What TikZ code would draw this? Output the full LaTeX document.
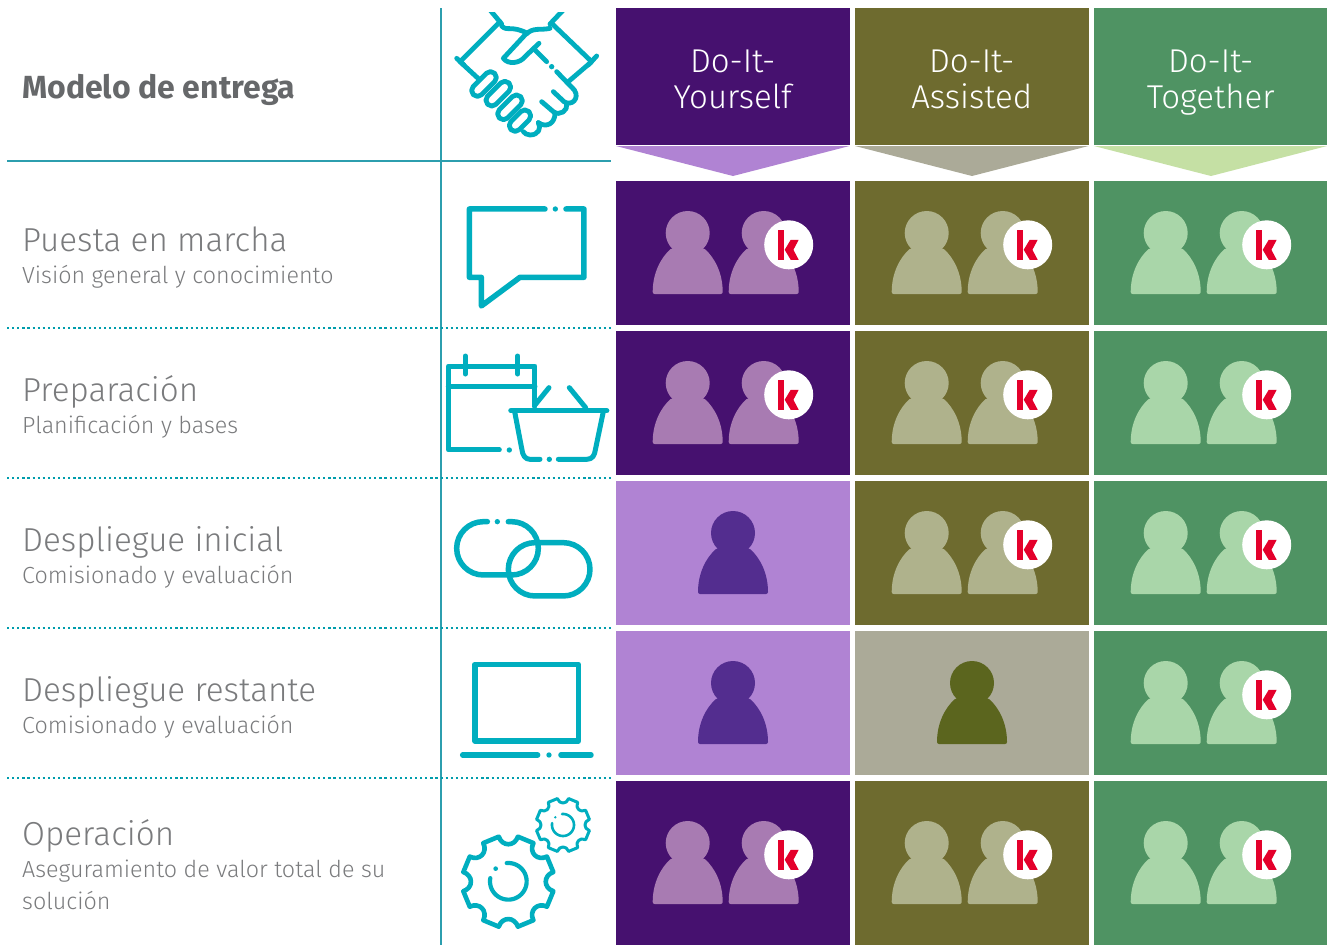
\documentclass[tikz,border=0pt]{standalone}
\usepackage{fontspec}
\setmainfont{Fira Sans Light}[BoldFont={Fira Sans Bold}]
\definecolor{teal}{HTML}{00AEBF}
\definecolor{rulecol}{HTML}{2C9EAE}
\definecolor{pdark}{HTML}{46116F}
\definecolor{odark}{HTML}{6E6B2F}
\definecolor{gdark}{HTML}{4F9363}
\definecolor{plight}{HTML}{B083D3}
\definecolor{olight}{HTML}{ABAA98}
\definecolor{glight}{HTML}{C5E0A4}
\definecolor{pperson}{HTML}{A87BB2}
\definecolor{operson}{HTML}{AFB28C}
\definecolor{gperson}{HTML}{A9D6A9}
\definecolor{psingle}{HTML}{532D8F}
\definecolor{osingle}{HTML}{5B651E}
\definecolor{kred}{HTML}{E4002B}
\definecolor{titlegrey}{HTML}{7A7B7D}
\definecolor{boldgrey}{HTML}{66686A}
\newcommand{\person}[3]{% centre x, row top, colour
  \fill[#3] (#1,#2+52) circle[radius=22];
  \fill[#3,rounded corners=2] (#1-35,#2+113) .. controls (#1-35,#2+92) and (#1-27,#2+77) .. (#1-16,#2+67) -- (#1+16,#2+67) .. controls (#1+27,#2+77) and (#1+35,#2+92) .. (#1+35,#2+113) -- cycle;
}
\newcommand{\kbadge}[2]{% centre x, centre y
  \fill[white] (#1,#2) circle[radius=24.5];
  \fill[kred] (#1-11,#2-14.5) rectangle (#1-4.7,#2+14.7);
  \fill[kred] (#1+2,#2-5) -- (#1+10,#2-5) -- (#1+4.7,#2+5) -- (#1+10,#2+15) -- (#1+2,#2+15) -- (#1-4,#2+5) -- cycle;
}
\newcommand{\pair}[3]{% column left, row top, colour
  \person{#1+71.7}{#2}{#3}
  \person{#1+147.7}{#2}{#3}
  \kbadge{#1+172.7}{#2+63.8}
}
\newcommand{\gearicon}[4]{% cx, cy, R, line width
  \begin{scope}[shift={(#1,#2)}]
  \draw[icon,line width=#4] (12:#3) \foreach \a in {45,90,...,360}{ -- ({\a-12}:#3) .. controls ({\a-10}:#3*0.77) and ({\a+10}:#3*0.77) .. ({\a+12}:#3) } -- cycle;
  \end{scope}
}
\tikzset{
  icon/.style={draw=teal,line width=5.5pt,line cap=round,line join=round},
  hand/.style={draw=teal,line width=4.8pt,line cap=round,line join=round},
  maintitle/.style={anchor=base west,inner sep=0pt,font=\fontsize{33.2}{33.2}\selectfont,text=titlegrey},
  subtitle/.style={anchor=base west,inner sep=0pt,font=\fontsize{23.3}{23.3}\selectfont,text=titlegrey},
  headtext/.style={anchor=base,inner sep=0pt,font=\fontsize{33}{33}\selectfont,text=white},
  dotrule/.style={draw=teal!90!black,line width=2.2pt,dash pattern=on 2.2pt off 2.9pt},
  solidrule/.style={draw=rulecol,line width=1.1pt},
}
\begin{document}
\begin{tikzpicture}[x=1pt,y=-1pt]
\useasboundingbox (0,0) rectangle (1327,945);
\fill[white] (0,0) rectangle (1327,945);
% header
\fill[pdark] (616,7.5) rectangle (849.5,145);
\fill[odark] (855,7.5) rectangle (1088.5,145);
\fill[gdark] (1094,7.5) rectangle (1327,145);
\fill[plight] (616,146) -- (849.5,146) -- (733,176) -- cycle;
\fill[olight] (855,146) -- (1088.5,146) -- (972,176) -- cycle;
\fill[glight] (1094,146) -- (1327,146) -- (1211,176) -- cycle;
\node[headtext] (h1a) at (732.7,72.5) {Do-It-};
\node[headtext] (h1b) at (732.7,108.5) {Yourself};
\node[headtext] (h2a) at (971.7,72.5) {Do-It-};
\node[headtext] (h2b) at (971.7,108.5) {Assisted};
\node[headtext] (h3a) at (1210.7,72.5) {Do-It-};
\node[headtext] (h3b) at (1210.7,108.5) {Together};
% row backgrounds
\foreach \t/\b/\c in {180.5/325/pdark,331/475/pdark,481/625/plight,631/775/plight,781/945/pdark}
  \fill[\c] (616,\t) rectangle (849.5,\b);
\foreach \t/\b/\c in {180.5/325/odark,331/475/odark,481/625/odark,631/775/olight,781/945/odark}
  \fill[\c] (855,\t) rectangle (1088.5,\b);
\foreach \t/\b in {180.5/325,331/475,481/625,631/775,781/945}
  \fill[gdark] (1094,\t) rectangle (1327,\b);
% people
\foreach \t in {181,331,791}{\pair{616}{\t}{pperson}}
\foreach \t in {181,331,481,791}{\pair{855}{\t}{operson}}
\foreach \t in {181,331,481,631,791}{\pair{1094}{\t}{gperson}}
\person{733}{481}{psingle}
\person{733}{631}{psingle}
\person{972}{631}{osingle}
% rules
\draw[solidrule] (441,8) -- (441,945);
\draw[solidrule] (7,161) -- (611,161);
\foreach \y in {328,478,628,778}
  \draw[dotrule] (7,\y) -- (611,\y);
% left labels
\node[anchor=base west,inner sep=0pt,font=\fontsize{32}{32}\selectfont\bfseries,text=boldgrey] (model) at (22,98) {Modelo de entrega};
\node[maintitle] (t1) at (22,251) {Puesta en marcha};
\node[subtitle] (s1) at (22,283) {Visión general y conocimiento};
\node[maintitle] (t2) at (22,401) {Preparación};
\node[subtitle] (s2) at (22,433) {Planificación y bases};
\node[maintitle] (t3) at (22,551) {Despliegue inicial};
\node[subtitle] (s3) at (22,583) {Comisionado y evaluación};
\node[maintitle] (t4) at (22,701) {Despliegue restante};
\node[subtitle] (s4) at (22,733) {Comisionado y evaluación};
\node[maintitle] (t5) at (22,845) {Operación};
\node[subtitle] (s5) at (22,877) {Aseguramiento de valor total de su};
\node[subtitle] (s5b) at (22,909) {solución};
% handshake icon
\begin{scope}[shift={(440,0)},x=0.3333pt,y=-0.3333pt]
\begin{scope}
\clip (40,38) rectangle (480,420);
\draw[hand] (150,30) -- (185,72);
\draw[hand] (180,65) -- (60,185) -- (125,245);
\draw[hand] (50,175) -- (72,195);
\draw[hand] (370,30) -- (330,72);
\draw[hand] (335,70) -- (455,185) -- (385,245);
\draw[hand] (470,168) -- (445,195);
\end{scope}
\draw[hand] (185,78) .. controls (200,95) and (215,75) .. (262,100);
\draw[hand] (330,85) .. controls (300,92) and (280,80) .. (255,105) -- (190,175) .. controls (205,195) and (240,190) .. (255,170) -- (297,130);
\draw[hand] (285,150) -- (320,185);
\fill[teal] (335,200) circle[radius=8];
\draw[hand] (350,215) -- (403,270) .. controls (420,295) and (395,320) .. (372,305) -- (340,275);
\draw[hand] (380,312) .. controls (385,330) and (360,350) .. (340,335) -- (305,305);
\draw[hand] (345,340) .. controls (345,370) and (320,385) .. (295,368);
\draw[hand] (295,368) .. controls (305,385) and (295,405) .. (270,405) .. controls (260,405) and (255,400) .. (250,395);
\foreach \cx/\cy/\h in {132/252/45,175/281/45,210/322/45,240/362/38}{
  \begin{scope}[shift={(\cx,\cy)},rotate=45]
  \draw[hand,fill=white,rounded corners=5.6pt] (-\h,-17.5) rectangle (\h,17.5);
  \end{scope}
}
\end{scope}
% chat icon
\begin{scope}[shift={(440,0)},x=0.3333pt,y=-0.3333pt]
\draw[icon] (315,627) -- (88,627) -- (88,832) -- (124,832) -- (124,918) -- (240,832) -- (432,832) -- (432,627) -- (378,627);
\fill[teal] (346,627) circle[radius=8];
\end{scope}
% calendar and basket
\begin{scope}[shift={(440,340)},x=0.3333pt,y=-0.3333pt]
\draw[icon,line width=5pt] (178,330) -- (25,330) -- (25,78) -- (285,78) -- (285,200);
\draw[icon,line width=5pt] (25,140) -- (285,140);
\draw[icon,line width=5pt] (76,48) -- (76,102);
\draw[icon,line width=5pt] (233,48) -- (233,102);
\fill[teal] (208,330) circle[radius=8];
\draw[icon,line width=5pt] (285,195) -- (327,143);
\draw[icon,line width=5pt] (388,143) -- (437,203);
\draw[icon] (213,212) -- (500,212);
\draw[icon,line width=5pt] (300,358) -- (270,358) .. controls (255,358) and (248,345) .. (246,330) -- (224,215);
\draw[icon,line width=5pt] (355,358) -- (440,358) .. controls (458,358) and (464,345) .. (466,330) -- (490,215);
\fill[teal] (328,358) circle[radius=8];
% links
\draw[icon,rounded corners=26.7pt] (205,545) -- (295,545) -- (295,705) -- (50,705) -- (50,545) -- (142,545);
\draw[icon,rounded corners=26.7pt] (205,608) rectangle (450,768);
\fill[teal] (172,545) circle[radius=8];
\end{scope}
% laptop and gears
\begin{scope}[shift={(440,640)},x=0.3333pt,y=-0.3333pt]
\draw[icon] (105,73) rectangle (415,303);
\draw[icon] (68,345) -- (293,345);
\draw[icon] (363,345) -- (453,345);
\fill[teal] (327,345) circle[radius=8];
\gearicon{205}{725}{138}{4.6pt}
\gearicon{369}{555}{81}{3pt}
\draw[icon,line width=4.2pt] plot[domain=-95:190,samples=50] ({205+55*cos(\x)},{724+55*sin(\x)});
\fill[teal] (167,686) circle[radius=7];
\draw[icon,line width=2.6pt] plot[domain=-95:190,samples=50] ({369+33*cos(\x)},{555+33*sin(\x)});
\fill[teal] (346,532) circle[radius=4];
\end{scope}
\end{tikzpicture}
\end{document}
